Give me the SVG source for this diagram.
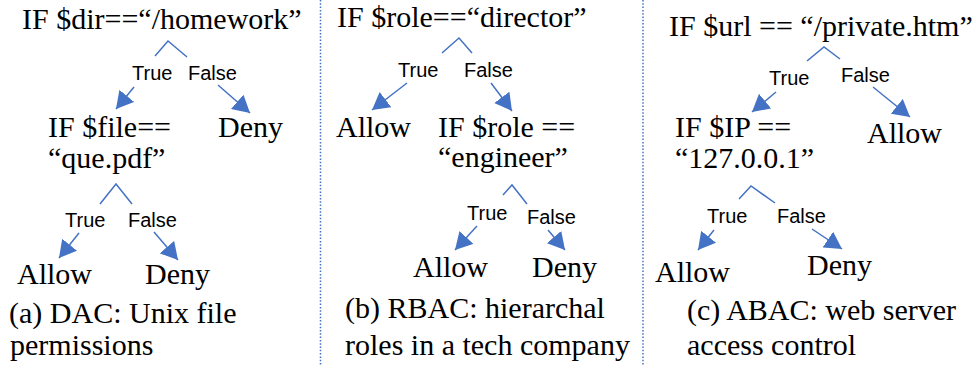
<svg xmlns="http://www.w3.org/2000/svg" width="977" height="368" viewBox="0 0 977 368">
  <style>
    .t { font-family: "Liberation Serif", "Times New Roman", serif; font-size: 30px; fill: #000; }
    .lb { font-family: "Liberation Sans", Arial, sans-serif; font-size: 20px; fill: #000; }
    .caret { fill: none; stroke: #4472C4; stroke-width: 1.5; }
    .arr { fill: none; stroke: #4472C4; stroke-width: 1.5; marker-end: url(#head); }
    .sep { stroke: #4472C4; stroke-width: 1.5; stroke-dasharray: 1.5 1.8; }
  </style>
  <defs>
    <marker id="head" viewBox="0 0 17 19" refX="17" refY="9.5" markerWidth="17" markerHeight="19" markerUnits="userSpaceOnUse" orient="auto">
      <path d="M0,0 L17,9.5 L0,19 z" fill="#4472C4"/>
    </marker>
  </defs>
  <rect width="977" height="368" fill="#fff"/>

  <!-- panel separators -->
  <g id="separators">
    <line class="sep" x1="320.5" y1="0" x2="320.5" y2="366"/>
    <line class="sep" x1="643" y1="0" x2="643" y2="366"/>
  </g>

  <!-- (a) DAC -->
  <g id="a-dir"><text class="t" x="22" y="29">IF $dir==“/homework”</text></g>
  <g id="a-file"><text class="t" x="48" y="137">IF $file==<tspan x="48" dy="31">“que.pdf”</tspan></text></g>
  <g id="a-deny1"><text class="t" x="218" y="137">Deny</text></g>
  <g id="a-allow"><text class="t" x="17" y="284">Allow</text></g>
  <g id="a-deny2"><text class="t" x="145" y="284">Deny</text></g>
  <g id="a-caption"><text class="t" x="9" y="323">(a) DAC: Unix file<tspan x="10" dy="32">permissions</tspan></text></g>

  <!-- (b) RBAC -->
  <g id="b-director"><text class="t" x="337" y="27">IF $role==“director”</text></g>
  <g id="b-allow1"><text class="t" x="336" y="137">Allow</text></g>
  <g id="b-engineer"><text class="t" x="438" y="137">IF $role ==<tspan x="438" dy="30">“engineer”</tspan></text></g>
  <g id="b-allow2"><text class="t" x="413" y="277">Allow</text></g>
  <g id="b-deny"><text class="t" x="532" y="277">Deny</text></g>
  <g id="b-caption"><text class="t" x="345" y="318">(b) RBAC: hierarchal<tspan x="345" dy="37">roles in a tech company</tspan></text></g>

  <!-- (c) ABAC -->
  <g id="c-url"><text class="t" x="669" y="36">IF $url == “/private.htm”</text></g>
  <g id="c-ip"><text class="t" x="675" y="137">IF $IP ==<tspan x="675" dy="31">“127.0.0.1”</tspan></text></g>
  <g id="c-allow1"><text class="t" x="867" y="143">Allow</text></g>
  <g id="c-allow2"><text class="t" x="655" y="282">Allow</text></g>
  <g id="c-deny"><text class="t" x="807" y="275">Deny</text></g>
  <g id="c-caption"><text class="t" x="687" y="320">(c) ABAC: web server<tspan x="687" dy="35">access control</tspan></text></g>

  <!-- branches: split carets, True/False labels and arrows -->
  <g id="connectors">
    <path class="caret" d="M155,56 L168,41 L187,57"/>
    <text class="lb" x="132" y="80">True</text>
    <text class="lb" x="188" y="80">False</text>
    <path class="arr" d="M134,87 L116,109"/>
    <path class="arr" d="M218,85 L250,113"/>

    <path class="caret" d="M100,204 L116,184 L132,204"/>
    <text class="lb" x="65" y="227">True</text>
    <text class="lb" x="128" y="227">False</text>
    <path class="arr" d="M79,233 L59,258"/>
    <path class="arr" d="M154,232 L178,260"/>

    <path class="caret" d="M442,53 L459,38 L472,53"/>
    <text class="lb" x="398" y="77">True</text>
    <text class="lb" x="464" y="77">False</text>
    <path class="arr" d="M407,83 L372,110"/>
    <path class="arr" d="M491,83 L512,111"/>

    <path class="caret" d="M503,195 L512,185 L527,204"/>
    <text class="lb" x="467" y="220">True</text>
    <text class="lb" x="527" y="224">False</text>
    <path class="arr" d="M477,226 L455,250"/>
    <path class="arr" d="M548,230 L565,250"/>

    <path class="caret" d="M807,61 L824,47 L840,59"/>
    <text class="lb" x="769" y="85">True</text>
    <text class="lb" x="841" y="82">False</text>
    <path class="arr" d="M776,92 L752,112"/>
    <path class="arr" d="M873,87 L910,117"/>

    <path class="caret" d="M739,199 L751,186 L775,203"/>
    <text class="lb" x="707" y="223">True</text>
    <text class="lb" x="777" y="223">False</text>
    <path class="arr" d="M714,230 L698,250"/>
    <path class="arr" d="M812,229 L842,249"/>
  </g>
</svg>
